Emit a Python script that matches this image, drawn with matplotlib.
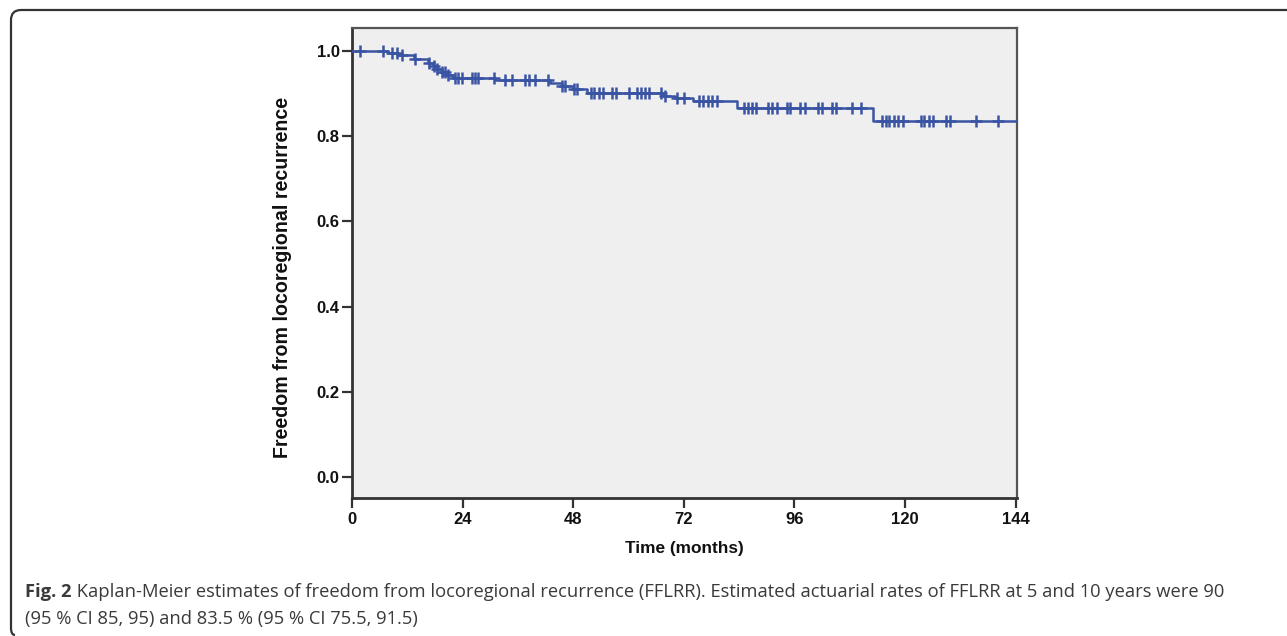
import numpy as np
import matplotlib
matplotlib.use("Agg")
import matplotlib.pyplot as plt
from matplotlib.path import Path
from matplotlib.patches import PathPatch

# ---- data ----
event_times = [0, 7.8, 10.0, 13.5, 16.5, 17.5, 18.5, 19.5, 20.5, 22.0, 31.0,
               43.0, 45.5, 48.0, 51.0, 67.5, 70.0, 74.0, 83.5, 113.0]
survival = [1.000, 0.995, 0.990, 0.981, 0.972, 0.965, 0.958, 0.951, 0.944, 0.937,
            0.931, 0.925, 0.918, 0.911, 0.902, 0.895, 0.889, 0.883, 0.867, 0.836]
censor_times = [1.7, 6.8, 8.6, 9.7, 10.8, 13.7, 16.6, 17.7, 18.5, 19.5, 20.2, 20.9,
                22.4, 23.1, 23.8, 26.0, 26.7, 27.4, 30.8, 33.2, 34.7,
                37.6, 38.4, 39.7, 42.6, 45.5, 46.3, 48.1, 48.8, 51.9, 52.6, 53.5,
                54.4, 56.4, 57.3, 60.0, 61.8, 62.8, 63.6, 64.5, 67.0, 68.0, 70.5,
                72.0, 75.2, 76.2, 77.2, 78.1, 79.1, 85.0, 85.9, 86.8, 87.7, 90.2,
                91.2, 92.2, 94.3, 95.1, 97.2, 98.2, 101.1, 102.0, 104.2, 105.1,
                108.5, 110.5, 115.0, 115.8, 116.6, 117.6, 118.5, 119.5, 123.4,
                124.2, 125.2, 126.1, 129.0, 129.8, 135.3, 140.2]
end_time = 144
x_ticks = [0, 24, 48, 72, 96, 120, 144]
y_ticks = [0.0, 0.2, 0.4, 0.6, 0.8, 1.0]
x_label = "Time (months)"
y_label = "Freedom from locoregional recurrence"
caption_bold = "Fig. 2"
caption_line1 = (" Kaplan-Meier estimates of freedom from locoregional recurrence (FFLRR). "
                 "Estimated actuarial rates of FFLRR at 5 and 10 years were 90")
caption_line2 = "(95 % CI 85, 95) and 83.5 % (95 % CI 75.5, 91.5)"

W, H = 1287, 636
fig = plt.figure(figsize=(W / 100, H / 100), dpi=100)
fig.patch.set_facecolor("white")

# axes placement (pixels -> figure fraction)
ax_l, ax_r, ax_t, ax_b = 352, 1017, 28, 498
ax = fig.add_axes([ax_l / W, 1 - ax_b / H, (ax_r - ax_l) / W, (ax_b - ax_t) / H])
ax.set_facecolor("#efefef")

line_color = "#3a54a4"
t_step = list(event_times) + [end_time]
s_step = list(survival) + [survival[-1]]
ax.step(t_step, s_step, where="post", color=line_color, lw=1.8, zorder=3)

et = np.array(event_times)
idx = np.searchsorted(et, np.array(censor_times), side="right") - 1
cens_s = np.array(survival)[idx]
ax.plot(censor_times, cens_s, linestyle="none", marker="+", ms=8, mew=1.8,
        color=line_color, zorder=4)

ax.set_xlim(0, 144.3)
ax.set_ylim(-0.049, 1.054)
ax.set_xticks(x_ticks)
ax.set_xticklabels([str(v) for v in x_ticks])
ax.set_yticks(y_ticks)
ax.set_yticklabels([f"{v:.1f}" for v in y_ticks])

tick_font = dict(family="Liberation Sans", weight="bold", size=12)
for lab in ax.get_xticklabels() + ax.get_yticklabels():
    lab.set_fontproperties(matplotlib.font_manager.FontProperties(**tick_font))
    lab.set_color("#111111")
ax.tick_params(axis="both", direction="out", length=7, width=1.6, color="#333333", pad=2)
ax.tick_params(axis="x", pad=3)

for side in ["left", "bottom"]:
    ax.spines[side].set_color("#333333")
    ax.spines[side].set_linewidth(2.0)
for side in ["top", "right"]:
    ax.spines[side].set_color("#555555")
    ax.spines[side].set_linewidth(1.6)

# axis titles placed explicitly
fig.text(684.5 / W, 1 - 549 / H, x_label, ha="center", va="center",
         family="Liberation Sans", weight="bold", size=12.4, color="#111111")
fig.text(283 / W, 1 - 277 / H, y_label, ha="center", va="center", rotation=90,
         family="Liberation Sans", weight="bold", size=14.1, color="#111111")

# caption, font size fitted to the reference line width
cap_color = "#3a3a3a"
renderer = fig.canvas.get_renderer()
base = 11.5
t_bold = fig.text(25 / W, 1 - 597 / H, caption_bold, ha="left", va="baseline",
                  family="Open Sans", weight="bold", size=base, color=cap_color)
t1 = fig.text(0, 1 - 597 / H, caption_line1, ha="left", va="baseline",
              family="Open Sans", size=base, color=cap_color)
w_total = (t_bold.get_window_extent(renderer).width
           + t1.get_window_extent(renderer).width)
cap_size = base * 1205.0 / w_total
t_bold.set_fontsize(cap_size)
t1.set_fontsize(cap_size)
bb = t_bold.get_window_extent(renderer)
t1.set_x(bb.x1 / W)
fig.text(25 / W, 1 - 624 / H, caption_line2, ha="left", va="baseline",
         family="Open Sans", size=cap_size, color=cap_color)

# bracket-like border (top and left with rounded corner)
r = 10
verts = [(W, H - 10), (11 + r, H - 10), (11, H - 10), (11, H - 10 - r),
         (11, 8), (11, 1), (15, 1)]
codes = [Path.MOVETO, Path.LINETO, Path.CURVE3, Path.CURVE3,
         Path.LINETO, Path.CURVE3, Path.CURVE3]
verts_f = [(x / W, y / H) for x, y in verts]
fig.patches.append(PathPatch(Path(verts_f, codes), transform=fig.transFigure,
                             fill=False, edgecolor="#333333", lw=1.6))

fig.savefig("out.png", dpi=100, facecolor="white")
